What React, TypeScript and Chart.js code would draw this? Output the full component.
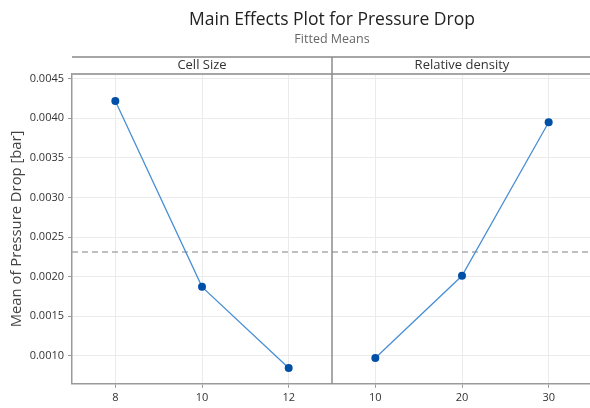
import React, { useEffect, useRef } from "react";
import { Chart, registerables } from "chart.js";

Chart.register(...registerables);

const cellSizeLevels = ["8", "10", "12"];
const cellSizeMeans = [0.00422, 0.00187, 0.000845];
const relDensityLevels = ["10", "20", "30"];
const relDensityMeans = [0.00097, 0.00201, 0.00395];
const overallMean = 0.00231;
const yTicks = [0.001, 0.0015, 0.002, 0.0025, 0.003, 0.0035, 0.004, 0.0045];
const panelNames = ["Cell Size", "Relative density"];
const chartTitle = "Main Effects Plot for Pressure Drop";
const chartSubtitle = "Fitted Means";

const FONT = "'Open Sans', 'Noto Sans', sans-serif";

const panelPlugin = {
  id: "panels",
  beforeDatasetsDraw(chart: any) {
    const { ctx, chartArea, scales } = chart;
    const x = scales.x;
    const y = scales.y;
    const divX = (x.getPixelForValue(2) + x.getPixelForValue(3)) / 2;
    ctx.save();
    // reference line
    const yy = y.getPixelForValue(overallMean);
    ctx.strokeStyle = "#ababab";
    ctx.lineWidth = 1.5;
    ctx.setLineDash([6, 4]);
    ctx.beginPath();
    ctx.moveTo(chartArea.left, yy);
    ctx.lineTo(chartArea.right, yy);
    ctx.stroke();
    ctx.setLineDash([]);
    // strip
    const stripTop = chartArea.top - 17;
    ctx.strokeStyle = "#a6a6a6";
    ctx.lineWidth = 2;
    ctx.beginPath();
    ctx.moveTo(chartArea.left, stripTop);
    ctx.lineTo(chartArea.right, stripTop);
    ctx.moveTo(chartArea.left, chartArea.top);
    ctx.lineTo(chartArea.right, chartArea.top);
    ctx.stroke();
    // divider
    ctx.strokeStyle = "#8c8c8c";
    ctx.lineWidth = 1.5;
    ctx.beginPath();
    ctx.moveTo(divX, stripTop);
    ctx.lineTo(divX, chartArea.bottom);
    ctx.stroke();
    // strip labels
    ctx.fillStyle = "#333333";
    ctx.font = `13px ${FONT}`;
    ctx.textAlign = "center";
    ctx.textBaseline = "middle";
    ctx.fillText(panelNames[0], (chartArea.left + divX) / 2, stripTop + 8.5);
    const rightEnd = x.getPixelForValue(5) + (x.getPixelForValue(5) - x.getPixelForValue(4)) / 2;
    ctx.fillText(panelNames[1], (divX + rightEnd) / 2, stripTop + 8.5);
    // titles centred over the plotting area
    const cx = (chartArea.left + chartArea.right) / 2;
    ctx.fillStyle = "#222222";
    ctx.font = `17.5px ${FONT}`;
    ctx.fillText(chartTitle, cx, 20);
    ctx.fillStyle = "#666666";
    ctx.font = `12.5px ${FONT}`;
    ctx.fillText(chartSubtitle, cx, 39.5);
    ctx.restore();
  },
};

export default function App() {
  const ref = useRef<HTMLCanvasElement | null>(null);
  useEffect(() => {
    if (!ref.current) return;
    const labels = [...cellSizeLevels, ...relDensityLevels];
    const leftData = [...cellSizeMeans, null, null, null];
    const rightData = [null, null, null, ...relDensityMeans];
    const ds = (data: any[]) => ({
      data,
      borderColor: "#4a8fd6",
      borderWidth: 1.3,
      pointBackgroundColor: "#0050a8",
      pointBorderColor: "#0050a8",
      pointRadius: 4,
      pointBorderWidth: 0,
      spanGaps: false,
      tension: 0,
    });
    const chart = new Chart(ref.current, {
      type: "line",
      data: { labels, datasets: [ds(leftData), ds(rightData)] },
      plugins: [panelPlugin],
      options: {
        animation: false,
        responsive: true,
        maintainAspectRatio: false,
        layout: { padding: { left: 0, right: 8, top: 74, bottom: 1 } },
        plugins: {
          legend: { display: false },
          tooltip: { enabled: false },
          title: { display: false },
          subtitle: { display: false },
        },
        scales: {
          x: {
            type: "category",
            offset: true,
            grid: { color: "#ebebeb", lineWidth: 1, tickColor: "#999999", tickLength: 4, offset: false },
            border: { color: "#9a9a9a", width: 1.5 },
            ticks: { color: "#333333", font: { family: FONT, size: 11 }, padding: 3, maxRotation: 0, autoSkip: false },
          },
          y: {
            type: "linear",
            min: 0.000645,
            max: 0.00456,
            afterBuildTicks: (scale: any) => {
              scale.ticks = yTicks.map((v) => ({ value: v }));
            },
            afterFit: (scale: any) => {
              scale.width = 72;
            },
            grid: { color: "#ebebeb", lineWidth: 1, tickColor: "#999999", tickLength: 4 },
            border: { color: "#9a9a9a", width: 1.5 },
            ticks: {
              color: "#333333",
              font: { family: FONT, size: 11 },
              padding: 4,
              callback: (v: any) => Number(v).toFixed(4),
            },
            title: {
              display: true,
              text: "Mean of Pressure Drop [bar]",
              color: "#444444",
              font: { family: FONT, size: 14.8 },
              padding: { top: 7.6, bottom: 0 },
            },
          },
        },
      },
    });
    return () => chart.destroy();
  }, []);
  return (
    <div style={{ position: "fixed", left: 0, top: 0, width: 590, height: 408, overflow: "hidden", background: "#fff" }}>
      <div style={{ position: "relative", width: 600, height: 408 }}>
        <canvas ref={ref} />
      </div>
    </div>
  );
}
